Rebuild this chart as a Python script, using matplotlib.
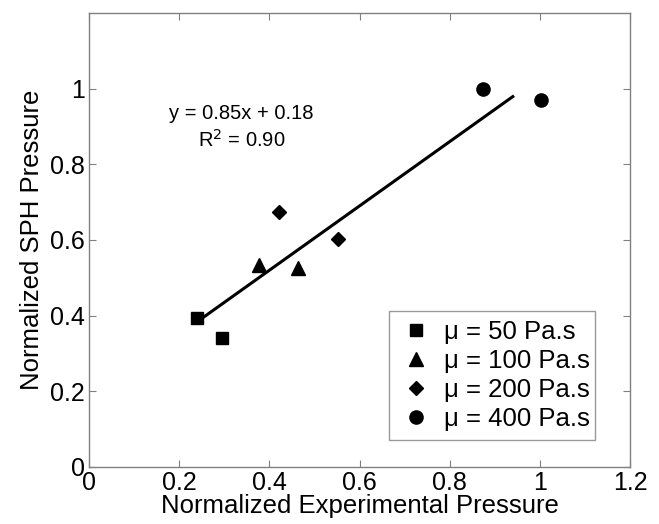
import matplotlib
matplotlib.use('Agg')
import matplotlib.pyplot as plt

plt.rcParams['font.family'] = ['Liberation Sans', 'DejaVu Sans']

# normalized pressures
x50 = [0.239, 0.295]
y50 = [0.394, 0.340]
x100 = [0.378, 0.463]
y100 = [0.533, 0.525]
x200 = [0.421, 0.552]
y200 = [0.675, 0.602]
x400 = [0.873, 1.002]
y400 = [1.000, 0.971]

slope, intercept = 0.85, 0.18
fit_x = [0.239, 0.94]

fig = plt.figure(figsize=(6.59, 5.24), dpi=100)
ax = fig.add_axes([89/659, 1 - 467/524, 541/659, 454/524])

ax.plot(fit_x, [slope * v + intercept for v in fit_x], color='black', lw=2.2)
ax.plot(x50, y50, 's', color='black', ms=8, label='μ = 50 Pa.s')
ax.plot(x100, y100, '^', color='black', ms=10, label='μ = 100 Pa.s')
ax.plot(x200, y200, 'D', color='black', ms=7, label='μ = 200 Pa.s')
ax.plot(x400, y400, 'o', color='black', ms=9.5, label='μ = 400 Pa.s')

ax.text(0.338, 0.934, 'y = 0.85x + 0.18', ha='center', va='center', fontsize=14.5)
ax.text(0.338, 0.865, r'R$^2$ = 0.90', ha='center', va='center', fontsize=14.5)

ax.set_xlim(0, 1.2)
ax.set_ylim(0, 1.2)
ax.set_xticks([0, 0.2, 0.4, 0.6, 0.8, 1, 1.2])
ax.set_xticklabels(['0', '0.2', '0.4', '0.6', '0.8', '1', '1.2'])
ax.set_yticks([0, 0.2, 0.4, 0.6, 0.8, 1])
ax.set_yticklabels(['0', '0.2', '0.4', '0.6', '0.8', '1'])
ax.tick_params(direction='in', top=True, right=True, length=5, color='#808080',
               labelsize=18, pad=3)
for s in ax.spines.values():
    s.set_color('#808080')
    s.set_linewidth(1)

ax.set_xlabel('Normalized Experimental Pressure', fontsize=18.5, labelpad=-1)
ax.set_ylabel('Normalized SPH Pressure', fontsize=18.5, labelpad=4)

leg = ax.legend(loc='lower left', bbox_to_anchor=(0.555, 0.059, 0.38, 0.333),
                mode='expand', fontsize=18.5, frameon=True, fancybox=False,
                edgecolor='#808080', borderaxespad=0, handletextpad=0.4,
                labelspacing=0.2, numpoints=1, handlelength=1.4,
                borderpad=0.35)
leg.get_frame().set_linewidth(1)

fig.savefig('out.png', dpi=100)
